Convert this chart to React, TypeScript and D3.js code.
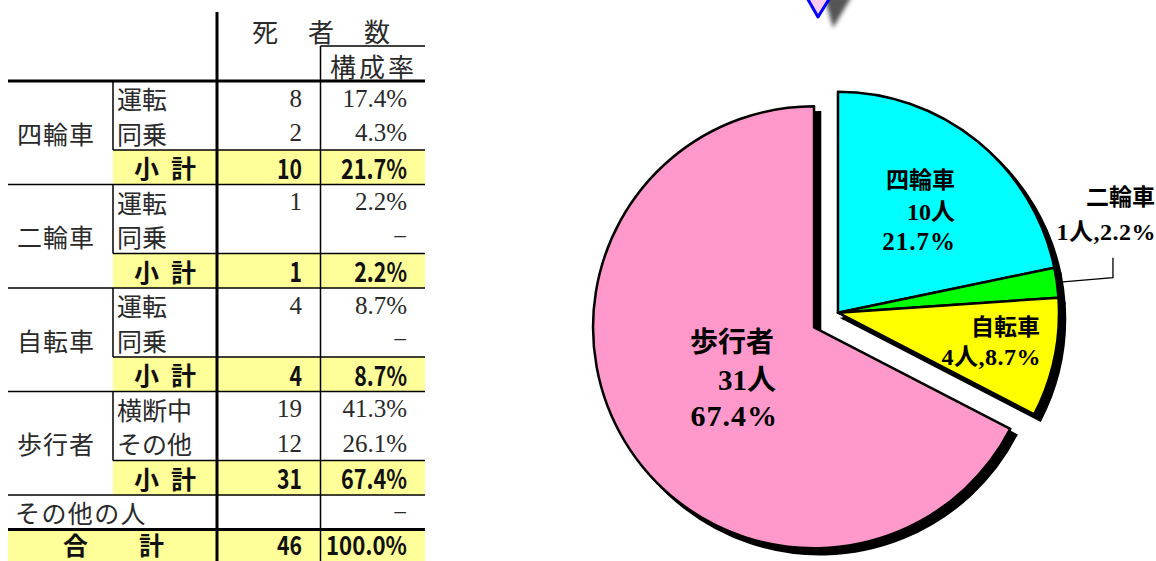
import React from "react";
import * as d3 from "d3";

// ---------- data ----------
const groupLabels = ["四輪車", "二輪車", "自転車", "歩行者"];
const subLabels = [
  ["運転", "同乗"],
  ["運転", "同乗"],
  ["運転", "同乗"],
  ["横断中", "その他"],
];
const subCounts: (number | null)[][] = [
  [8, 2],
  [1, null],
  [4, null],
  [19, 12],
];
const subRates = [
  ["17.4%", "4.3%"],
  ["2.2%", "−"],
  ["8.7%", "−"],
  ["41.3%", "26.1%"],
];
const subtotalCounts = [10, 1, 4, 31];
const subtotalRates = ["21.7%", "2.2%", "8.7%", "67.4%"];
const otherLabel = "その他の人";
const otherRate = "−";
const totalLabel = "合計";
const totalCount = 46;
const totalRate = "100.0%";
const headerTitle = "死者数";
const headerRate = "構成率";
const subtotalLabel = "小計";
const personUnit = "人";

const pieColors = ["#00ffff", "#00ff00", "#ffff00", "#ff99cc"];

// ---------- layout ----------
const W = 1156;
const H = 561;
const tableLeft = 8;
const tableRight = 425;
const colSub = 113;
const colCount = 217;
const colRate = 320.5;
const tableTop = 81;
const rh = 34.5;

const jp = "'Noto Sans CJK JP', sans-serif";
const serifNum = "'Liberation Serif', 'Noto Sans CJK JP', serif";
const yellow = "#ffff99";
const ink = "#2a2a2a";

const pieBase = { x: 826, y: 320 };
const R = 221;
const explode = 14;
const shadow = 6;

export default function App() {
  // ----- table -----
  const rows: JSX.Element[] = [];
  const lines: JSX.Element[] = [];
  const fills: JSX.Element[] = [];

  groupLabels.forEach((g, gi) => {
    const top = tableTop + gi * 3 * rh;
    fills.push(
      <rect key={"f" + gi} x={colSub} y={top + 2 * rh} width={tableRight - colSub} height={rh} fill={yellow} />
    );
    rows.push(
      <text key={"g" + gi} x={56} y={top + 1.5 * rh} textAnchor="middle" dominantBaseline="central"
        fontFamily={jp} fontSize={25} letterSpacing={1} fill={ink}>{g}</text>
    );
    subLabels[gi].forEach((s, si) => {
      const cy = top + (si + 0.5) * rh;
      rows.push(
        <text key={`s${gi}${si}`} x={117} y={cy} dominantBaseline="central" fontFamily={jp} fontSize={25} fill={ink}>{s}</text>
      );
      const c = subCounts[gi][si];
      if (c !== null)
        rows.push(
          <text key={`c${gi}${si}`} x={302} y={cy} textAnchor="end" dominantBaseline="central"
            fontFamily={serifNum} fontSize={25} fill={ink}>{c}</text>
        );
      rows.push(
        <text key={`r${gi}${si}`} x={407} y={cy} textAnchor="end" dominantBaseline="central"
          fontFamily={serifNum} fontSize={25} fill={ink}>{subRates[gi][si]}</text>
      );
    });
    const sy = top + 2.5 * rh;
    rows.push(
      <text key={"st" + gi} x={134} y={sy} dominantBaseline="central" fontFamily={jp} fontWeight="bold"
        fontSize={25} letterSpacing={12} fill="#111">{subtotalLabel}</text>
    );
    const cStr = String(subtotalCounts[gi]);
    rows.push(
      <text key={"sc" + gi} x={302} y={sy} textAnchor="end" dominantBaseline="central" fontFamily={jp}
        fontWeight="bold" fontSize={27} fill="#111" textLength={cStr.length * 12.5} lengthAdjust="spacingAndGlyphs">{cStr}</text>
    );
    rows.push(
      <text key={"sr" + gi} x={407} y={sy} textAnchor="end" dominantBaseline="central" fontFamily={jp}
        fontWeight="bold" fontSize={27} fill="#111" textLength={subtotalRates[gi].length * 13.2} lengthAdjust="spacingAndGlyphs">{subtotalRates[gi]}</text>
    );
    lines.push(<line key={"v" + gi} x1={colSub} x2={colSub} y1={top} y2={top + 2 * rh} stroke="#000" strokeWidth={1.5} />);
    lines.push(<line key={"h2" + gi} x1={colSub} x2={tableRight} y1={top + 2 * rh} y2={top + 2 * rh} stroke="#000" strokeWidth={1.5} />);
    lines.push(<line key={"h3" + gi} x1={tableLeft} x2={tableRight} y1={top + 3 * rh} y2={top + 3 * rh} stroke="#000" strokeWidth={1.5} />);
  });

  const otherY = tableTop + 12 * rh;
  const totalY = tableTop + 13 * rh;
  const totalMid = totalY + 14;
  fills.push(<rect key="ft" x={tableLeft} y={totalY} width={tableRight - tableLeft} height={H - totalY} fill={yellow} />);
  rows.push(
    <text key="oth" x={15} y={otherY + rh / 2} dominantBaseline="central" fontFamily={jp} fontSize={25} letterSpacing={1.4} fill={ink}>{otherLabel}</text>
  );
  rows.push(
    <text key="othr" x={407} y={otherY + rh / 2} textAnchor="end" dominantBaseline="central" fontFamily={serifNum} fontSize={25} fill={ink}>{otherRate}</text>
  );
  rows.push(
    <text key="tot" x={63} y={totalMid} dominantBaseline="central" fontFamily={jp} fontWeight="bold" fontSize={25} letterSpacing={51} fill="#111">{totalLabel}</text>
  );
  rows.push(
    <text key="totc" x={302} y={totalMid} textAnchor="end" dominantBaseline="central" fontFamily={jp} fontWeight="bold" fontSize={26} fill="#111"
      textLength={String(totalCount).length * 12.5} lengthAdjust="spacingAndGlyphs">{totalCount}</text>
  );
  rows.push(
    <text key="totr" x={407} y={totalMid} textAnchor="end" dominantBaseline="central" fontFamily={jp} fontWeight="bold" fontSize={26} fill="#111"
      textLength={totalRate.length * 13.5} lengthAdjust="spacingAndGlyphs">{totalRate}</text>
  );

  // ----- pie -----
  const arcs = d3.pie<number>().sort(null).value((d) => d)(subtotalCounts);
  const arcGen = d3.arc<d3.PieArcDatum<number>>().innerRadius(0).outerRadius(R);
  const groupMid = (arcs[0].startAngle + arcs[2].endAngle) / 2;
  const pinkMid = (arcs[3].startAngle + arcs[3].endAngle) / 2;
  const centers = arcs.map((a, i) => {
    const ang = i < 3 ? groupMid : pinkMid;
    return { x: pieBase.x + explode * Math.sin(ang), y: pieBase.y - explode * Math.cos(ang) };
  });

  const gc = centers[0];
  const pc = centers[3];
  const greenMid = (arcs[1].startAngle + arcs[1].endAngle) / 2;
  const lp0 = { x: gc.x + (R + 6) * Math.sin(greenMid), y: gc.y - (R + 6) * Math.cos(greenMid) };

  const labelStyle = { fontFamily: serifNum, fontWeight: "bold" as const, fill: "#000" };

  return (
    <svg width={W} height={H} style={{ position: "absolute", left: 0, top: 0, background: "#fff" }}>
      <defs>
        <filter id="blur" x="-50%" y="-50%" width="200%" height="200%">
          <feGaussianBlur stdDeviation="2" />
        </filter>
      </defs>
      {fills}
      <text x={252} y={30} dominantBaseline="central" fontFamily={jp} fontSize={26} letterSpacing={30} fill={ink}>{headerTitle}</text>
      <text x={330} y={65} dominantBaseline="central" fontFamily={jp} fontSize={26} letterSpacing={3} fill={ink}>{headerRate}</text>
      {rows}
      {lines}
      <line x1={colRate} x2={tableRight} y1={46} y2={46} stroke="#000" strokeWidth={1.5} />
      <line x1={colRate} x2={colRate} y1={46} y2={H} stroke="#000" strokeWidth={1.5} />
      <line x1={colCount} x2={colCount} y1={12} y2={H} stroke="#000" strokeWidth={3} />
      <line x1={tableLeft} x2={tableRight} y1={tableTop} y2={tableTop} stroke="#000" strokeWidth={3} />
      <line x1={tableLeft} x2={tableRight} y1={totalY} y2={totalY} stroke="#000" strokeWidth={3} />

      {/* partial callout at top */}
      <polygon points="824,-4 852,-4 833,28" fill="#555" filter="url(#blur)" />
      <polygon points="806,-4 831,-4 818,17" fill="#ffccee" stroke="#0000ff" strokeWidth={3} strokeLinejoin="round" />

      {/* pie shadows */}
      {arcs.map((a, i) => (
        <path key={"sh" + i} d={arcGen(a) || ""} transform={`translate(${centers[i].x + shadow},${centers[i].y + shadow})`}
          fill="#000" stroke="#000" strokeWidth={2.5} />
      ))}
      {arcs.map((a, i) => (
        <path key={"p" + i} d={arcGen(a) || ""} transform={`translate(${centers[i].x},${centers[i].y})`}
          fill={pieColors[i]} stroke="#000" strokeWidth={2.5} strokeLinejoin="round" />
      ))}

      {/* leader line for 二輪車 */}
      <polyline points={`${lp0.x},${lp0.y} ${gc.x + 275},${gc.y - 35} ${gc.x + 275},${gc.y - 55}`} fill="none" stroke="#000" strokeWidth={1.3} />

      {/* labels */}
      <g {...labelStyle} textAnchor="end" dominantBaseline="central">
        <text x={gc.x + 117} y={gc.y - 132} fontSize={23}>{groupLabels[0]}</text>
        <text x={gc.x + 117} y={gc.y - 101} fontSize={24}>{subtotalCounts[0] + personUnit}</text>
        <text x={gc.x + 118} y={gc.y - 71} fontSize={25} letterSpacing={1}>{subtotalRates[0]}</text>
        <text x={gc.x + 317} y={gc.y - 115} fontSize={23}>{groupLabels[1]}</text>
        <text x={gc.x + 318} y={gc.y - 81} fontSize={24} letterSpacing={0.5}>{`${subtotalCounts[1]}${personUnit},${subtotalRates[1]}`}</text>
        <text x={gc.x + 202} y={gc.y + 15} fontSize={23}>{groupLabels[2]}</text>
        <text x={gc.x + 203} y={gc.y + 44} fontSize={24} letterSpacing={0.5}>{`${subtotalCounts[2]}${personUnit},${subtotalRates[2]}`}</text>
        <text x={pc.x - 40} y={pc.y + 15} fontSize={28}>{groupLabels[3]}</text>
        <text x={pc.x - 38} y={pc.y + 53} fontSize={29}>{subtotalCounts[3] + personUnit}</text>
        <text x={pc.x - 36} y={pc.y + 88} fontSize={30} letterSpacing={1}>{subtotalRates[3]}</text>
      </g>
    </svg>
  );
}
